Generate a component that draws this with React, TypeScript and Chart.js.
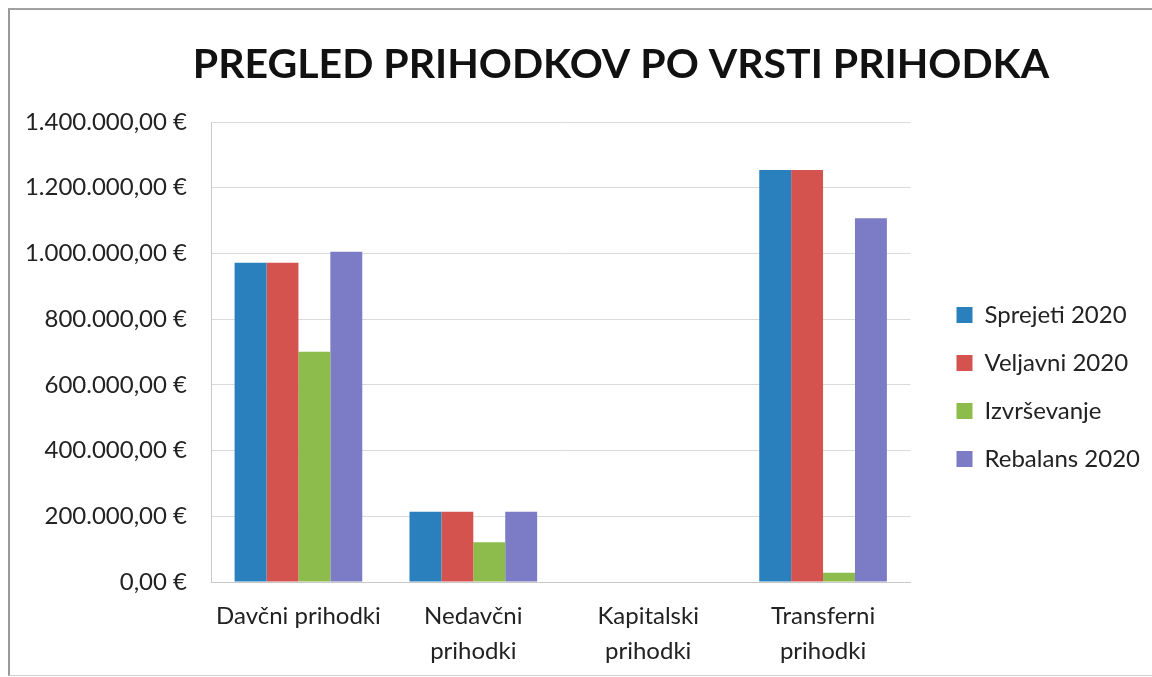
import React, { useEffect, useRef } from "react";
import { Chart, registerables } from "chart.js";

Chart.register(...registerables);

const titleText = "PREGLED PRIHODKOV PO VRSTI PRIHODKA";
const categories: (string | string[])[] = [
  "Davčni prihodki",
  ["Nedavčni", "prihodki"],
  ["Kapitalski", "prihodki"],
  ["Transferni", "prihodki"],
];
const seriesNames = ["Sprejeti 2020", "Veljavni 2020", "Izvrševanje", "Rebalans 2020"];
const sprejeti2020 = [972000, 214000, 0, 1254000];
const veljavni2020 = [972000, 214000, 0, 1254000];
const izvrsevanje = [701000, 121000, 0, 28000];
const rebalans2020 = [1005000, 214000, 0, 1107000];
const seriesColors = ["#2a80bd", "#d4534f", "#8dbb4c", "#7b7bc6"];
const yTickValues = [0, 200000, 400000, 600000, 800000, 1000000, 1200000, 1400000];
const yTickLabels = [
  "0,00 €",
  "200.000,00 €",
  "400.000,00 €",
  "600.000,00 €",
  "800.000,00 €",
  "1.000.000,00 €",
  "1.200.000,00 €",
  "1.400.000,00 €",
];

const FONT = "Lato, 'Open Sans', sans-serif";

const titlePlugin = {
  id: "customTitle",
  afterDraw(chart: any) {
    const ctx = chart.ctx;
    ctx.save();
    ctx.font = `bold 41px ${FONT}`;
    ctx.fillStyle = "#111";
    ctx.textAlign = "center";
    ctx.textBaseline = "alphabetic";
    ctx.fillText(titleText, chart.width / 2 + 45, 78);
    ctx.restore();
  },
};

export default function App() {
  const ref = useRef<HTMLCanvasElement | null>(null);
  useEffect(() => {
    if (!ref.current) return;
    const values = [sprejeti2020, veljavni2020, izvrsevanje, rebalans2020];
    const chart = new Chart(ref.current, {
      type: "bar",
      data: {
        labels: categories,
        datasets: seriesNames.map((name, i) => ({
          label: name,
          data: values[i],
          backgroundColor: seriesColors[i],
          borderWidth: 0,
          categoryPercentage: 0.73,
          barPercentage: 1,
        })),
      },
      plugins: [titlePlugin],
      options: {
        animation: false,
        responsive: false,
        maintainAspectRatio: false,
        layout: { padding: { left: 0, right: 2, top: 122, bottom: 8 } },
        plugins: {
          title: { display: false },
          legend: {
            position: "right",
            align: "center",
            fullSize: false,
            maxWidth: 320,
            title: { display: true, text: " ", padding: 23, font: { family: FONT, size: 20 } },
            labels: {
              boxWidth: 16,
              boxHeight: 16,
              padding: 24,
              color: "#222",
              font: { family: FONT, size: 24 },
            },
          },
          tooltip: { enabled: false },
        },
        scales: {
          x: {
            grid: { display: false, drawTicks: false },
            border: { color: "#c8c8c8" },
            afterFit: (scale: any) => {
              scale.height = 87;
            },
            ticks: {
              color: "#222",
              font: { family: FONT, size: 24, lineHeight: 1.46 },
              padding: 17,
              maxRotation: 0,
              autoSkip: false,
            },
          },
          y: {
            min: 0,
            max: 1400000,
            afterBuildTicks: (scale: any) => {
              scale.ticks = yTickValues.map((v) => ({ value: v }));
            },
            afterFit: (scale: any) => {
              scale.width = 211;
            },
            grid: { color: "#dadada", drawTicks: false },
            border: { color: "#c8c8c8" },
            ticks: {
              color: "#222",
              font: { family: FONT, size: 24 },
              padding: 24,
              callback: (v: any) => {
                const idx = yTickValues.indexOf(Number(v));
                return idx >= 0 ? yTickLabels[idx] : "";
              },
            },
          },
          spacer: {
            type: "linear",
            position: "right",
            display: true,
            grid: { display: false, drawTicks: false },
            border: { display: false },
            ticks: { display: false },
            afterFit: (scale: any) => {
              scale.width = 22;
            },
          },
        },
      },
    });
    return () => chart.destroy();
  }, []);
  return (
    <div style={{ position: "fixed", left: 0, top: 0, width: 1152, height: 677, background: "#fff" }}>
      <div
        style={{
          position: "absolute",
          left: 8,
          top: 8,
          width: 1152 - 8,
          height: 668,
          borderLeft: "2px solid #9a9a9a",
          borderTop: "2px solid #a0a0a0",
          borderBottom: "1px solid #d0d0d0",
          boxSizing: "border-box",
        }}
      />
      <canvas ref={ref} width={1152} height={677} style={{ position: "absolute", left: 0, top: 0 }} />
    </div>
  );
}
